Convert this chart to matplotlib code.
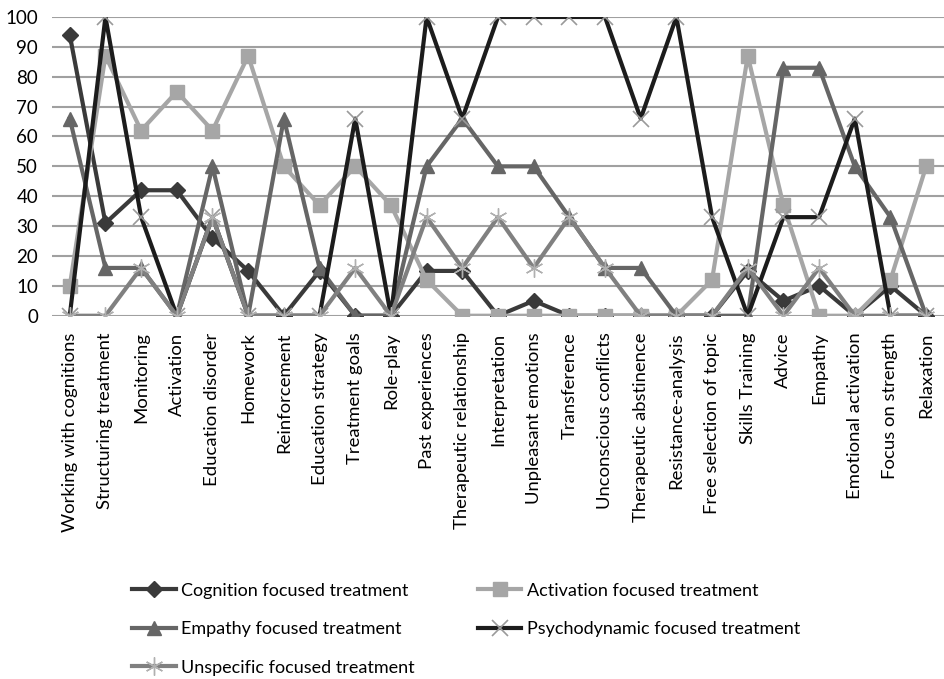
import numpy as np
import matplotlib.pyplot as plt

plt.rcParams['font.family'] = ['Lato', 'DejaVu Sans']

categories = ["Working with cognitions", "Structuring treatment", "Monitoring",
              "Activation", "Education disorder", "Homework", "Reinforcement",
              "Education strategy", "Treatment goals", "Role-play",
              "Past experiences", "Therapeutic relationship", "Interpretation",
              "Unpleasant emotions", "Transference", "Unconscious conflicts",
              "Therapeutic abstinence", "Resistance-analysis",
              "Free selection of topic", "Skills Training", "Advice", "Empathy",
              "Emotional activation", "Focus on strength", "Relaxation"]

cognition = [94, 31, 42, 42, 26, 15, 0, 15, 0, 0, 15, 15, 0, 5, 0, 0, 0, 0, 0,
             15, 5, 10, 0, 10, 0]
activation = [10, 87, 62, 75, 62, 87, 50, 37, 50, 37, 12, 0, 0, 0, 0, 0, 0, 0,
              12, 87, 37, 0, 0, 12, 50]
empathy = [66, 16, 16, 0, 50, 0, 66, 16, 0, 0, 50, 66, 50, 50, 33, 16, 16, 0,
           0, 0, 83, 83, 50, 33, 0]
psychodynamic = [0, 100, 33, 0, 33, 0, 0, 0, 66, 0, 100, 66, 100, 100, 100,
                 100, 66, 100, 33, 0, 33, 33, 66, 0, 0]
unspecific = [0, 0, 16, 0, 33, 0, 0, 0, 16, 0, 33, 16, 33, 16, 33, 16, 0, 0, 0,
              16, 0, 16, 0, 0, 0]

fig = plt.figure(figsize=(9.44, 6.79), dpi=100)
ax = fig.add_axes([0.055, 0.535, 0.945, 0.44])
x = np.arange(len(categories))

l_cog, = ax.plot(x, cognition, color="#3a3a3a", lw=3, marker="D", ms=8,
                 label="Cognition focused treatment", zorder=3)
l_act, = ax.plot(x, activation, color="#a6a6a6", lw=3, marker="s", ms=10,
                 label="Activation focused treatment", zorder=3)
l_emp, = ax.plot(x, empathy, color="#666666", lw=3, marker="^", ms=10,
                 label="Empathy focused treatment", zorder=3)
l_psy, = ax.plot(x, psychodynamic, color="#1c1c1c", lw=3, marker="x", ms=11,
                 mew=1.2, mec="#9a9a9a", label="Psychodynamic focused treatment",
                 zorder=3)
l_uns, = ax.plot(x, unspecific, color="#808080", lw=3, marker=(6, 2, 0), ms=13,
                 mew=1.0, mec="#b0b0b0", label="Unspecific focused treatment",
                 zorder=3)

ax.set_xlim(-0.5, len(categories) - 0.5)
ax.set_ylim(0, 100)
ax.set_yticks(range(0, 101, 10))
ax.set_xticks(x)
ax.set_xticklabels(categories, rotation=90, fontsize=13.3)
ax.tick_params(axis='y', labelsize=13.5, length=0, pad=10)
ax.tick_params(axis='x', length=0, pad=12)
ax.grid(axis='y', color="#a0a0a0", lw=1.5)
ax.set_axisbelow(True)
for s in ax.spines.values():
    s.set_visible(False)

# row-wise order like the original legend
handles = [l_cog, l_emp, l_uns, l_act, l_psy]
fig.legend(handles, [h.get_label() for h in handles], loc="upper left",
           bbox_to_anchor=(0.123, 0.166), ncol=2, frameon=False, fontsize=13,
           handlelength=2.4, handletextpad=0.3, columnspacing=3.5,
           labelspacing=1.25)

fig.savefig("out.png", dpi=100)
